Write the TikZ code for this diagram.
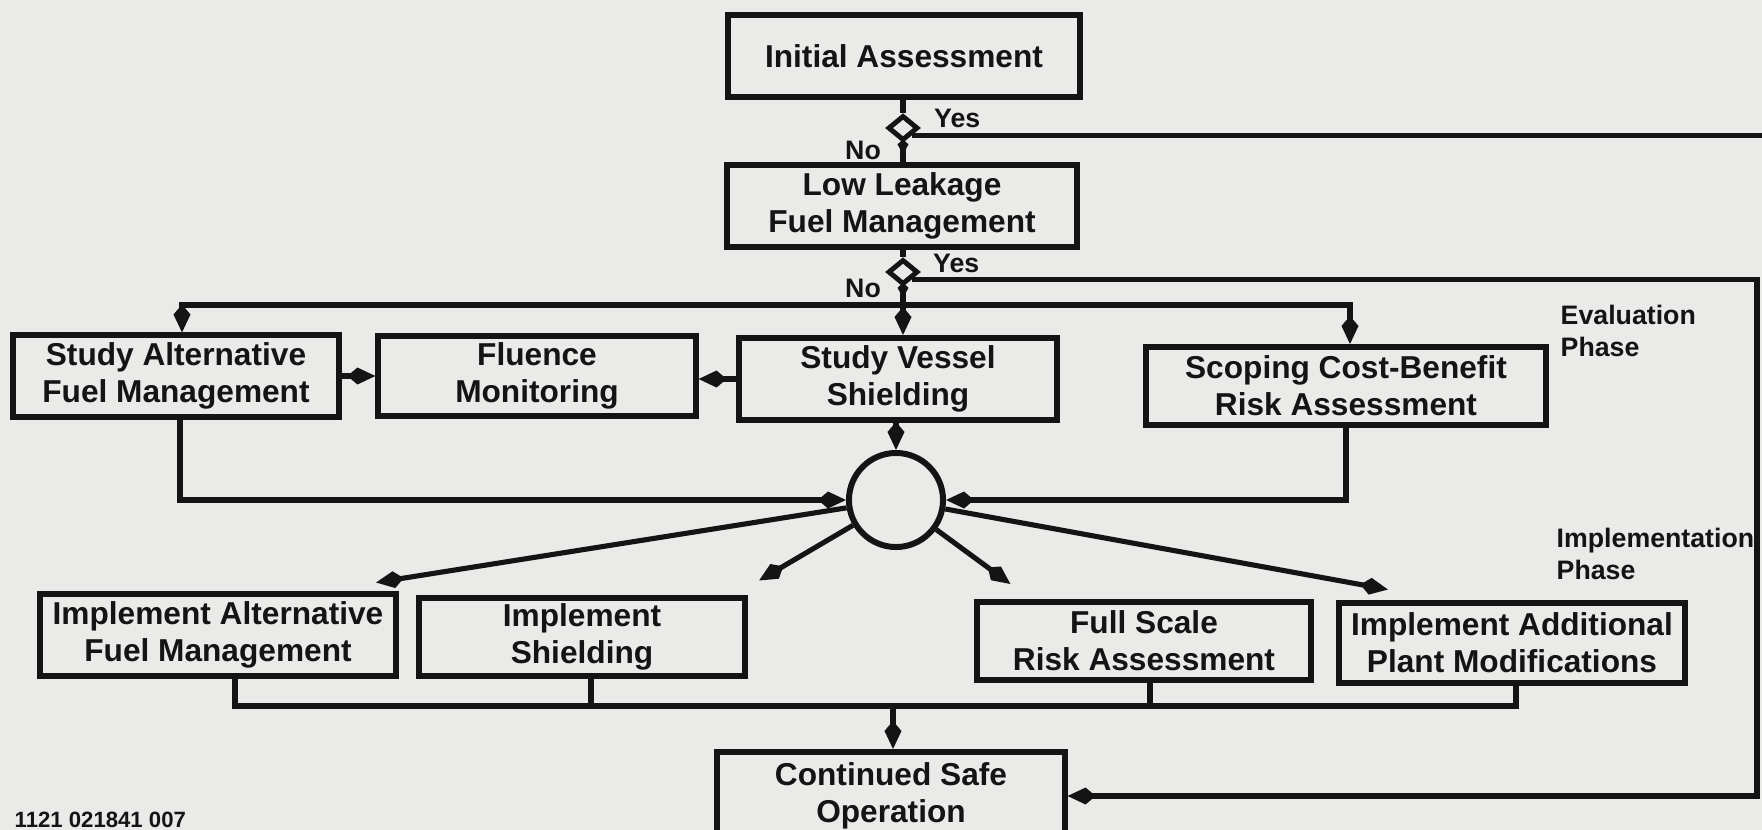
\documentclass[tikz,border=0pt]{standalone}
\usepackage{fontspec}
\setmainfont{Liberation Sans}
\usetikzlibrary{arrows.meta,shapes.geometric,calc}
\definecolor{paper}{RGB}{234,234,232}
\definecolor{ink}{RGB}{20,20,20}

\begin{document}
\begin{tikzpicture}[x=0.01cm,y=-0.01cm,
    box/.style={draw=ink,line width=1.7pt,fill=paper,text=ink,align=center,inner sep=0pt,
        font=\fontsize{9}{10.5}\selectfont\bfseries},
    wire/.style={draw=ink,line width=1.45pt},
    flow/.style={wire,-{Kite[length=0.28cm,width=0.17cm,inset=0.1cm]}},
    tick/.style={wire,-{Kite[length=0.15cm,width=0.11cm,inset=0.05cm]}},
    decide/.style={draw=ink,line width=1.4pt,fill=paper,diamond,inner sep=0pt,
        minimum width=0.30cm,minimum height=0.25cm},
    lbl/.style={inner sep=0pt,text=ink,font=\fontsize{7.6}{9.2}\selectfont\bfseries}]
    \useasboundingbox (0,0) rectangle (1762,830);
    \fill[paper] (0,0) rectangle (1762,830);

    % boxes: name / x / y / width / height / text
    \foreach \name/\x/\y/\w/\h/\txt in {
        init/904/56/3.51/0.82/Initial Assessment,
        lowleak/902/206/3.50/0.82/Low Leakage\\Fuel Management,
        studyalt/176/376/3.25/0.81/Study Alternative\\Fuel Management,
        fluence/537/376/3.17/0.79/Fluence\\Monitoring,
        vessel/898/379/3.18/0.82/Study Vessel\\Shielding,
        scoping/1346/386/3.99/0.78/Scoping Cost-Benefit\\Risk Assessment,
        implalt/218/635/3.56/0.81/Implement Alternative\\Fuel Management,
        implshield/582/637/3.26/0.77/Implement\\Shielding,
        fullscale/1144/641/3.33/0.78/Full Scale\\Risk Assessment,
        impladd/1512/643/3.46/0.79/Implement Additional\\Plant Modifications,
        safe/891/796/3.47/0.88/Continued Safe\\Operation}
    {
        \node[box,minimum width=\w cm,minimum height=\h cm] (\name) at (\x,\y) {\txt};
    }

    \node[decide] (d1) at (903,128) {};
    \node[decide] (d2) at (903,272) {};
    \node[draw=ink,line width=1.7pt,circle,minimum size=0.94cm] (hub) at (896,500) {};

    \node[lbl,anchor=west] (yes1) at ($(d1.east)+(13,-10)$) {Yes};
    \node[lbl,anchor=east] (no1) at ($(d1.west)+(-4,22)$) {No};
    \node[lbl,anchor=west] (yes2) at ($(d2.east)+(12,-9)$) {Yes};
    \node[lbl,anchor=east] (no2) at ($(d2.west)+(-4,16)$) {No};
    \node[lbl,align=left,anchor=west] (evalphase) at (1560,331) {Evaluation\\Phase};
    \node[lbl,align=left,anchor=west] (implphase) at (1556,554) {Implementation\\Phase};
    \node[lbl,font=\fontsize{6.3}{7}\selectfont\bfseries,anchor=base west] (figid) at (14,827) {1121 021841 007};

    \coordinate (offpage) at (1800,0);
    \coordinate (rim) at (1757,0);
    \coordinate (split) at (903,305);
    \coordinate (merge) at (893,706);

    % decision chain
    \draw[wire] (init.south -| d1) -- (d1.north);
    \draw[tick] (d1.south) -- ($(d1.south)!0.6!(d1.south |- lowleak.north)$);
    \draw[wire] (d1.south) -- (d1.south |- lowleak.north);
    \draw[wire] (lowleak.south -| d2) -- (d2.north);
    \draw[tick] (d2.south) -- ($(d2.south)!0.6!(split)$);
    \draw[flow] (d2.south) -- (d2.south |- vessel.north);
    \draw[wire] (d1.south east) -- (d1.south east -| offpage);
    \draw[flow] (d2.south east) -- (d2.south east -| rim) |- (safe.east);

    % evaluation phase
    \draw[flow] (split) -| ($(studyalt.north)+(6,0)$);
    \draw[flow] (split) -| ($(scoping.north)+(4,0)$);
    \draw[flow] (studyalt.east) -- (studyalt.east -| fluence.west);
    \draw[flow] (vessel.west) -- (vessel.west -| fluence.east);
    \draw[flow] (vessel.south -| hub) -- (hub.north);
    \draw[flow] ($(studyalt.south)+(4,0)$) |- (hub.west);
    \draw[flow] (scoping.south) |- (hub.east);

    % implementation phase
    \draw[flow] (hub) -- ($(implalt.north east)+(-23,-9)$);
    \draw[flow] (hub) -- ($(implshield.north east)+(11,-15)$);
    \draw[flow] (hub) -- ($(fullscale.north west)+(36,-15)$);
    \draw[flow] (hub) -- ($(impladd.north west)+(52,-11)$);
    \draw[wire] ($(implalt.south)+(17,0)$) |- (merge) -| ($(impladd.south)+(4,0)$);
    \draw[wire] ($(implshield.south)+(9,0)$) |- (merge);
    \draw[wire] ($(fullscale.south)+(6,0)$) |- (merge);
    \draw[flow] (merge) -- (merge |- safe.north);
\end{tikzpicture}
\end{document}
